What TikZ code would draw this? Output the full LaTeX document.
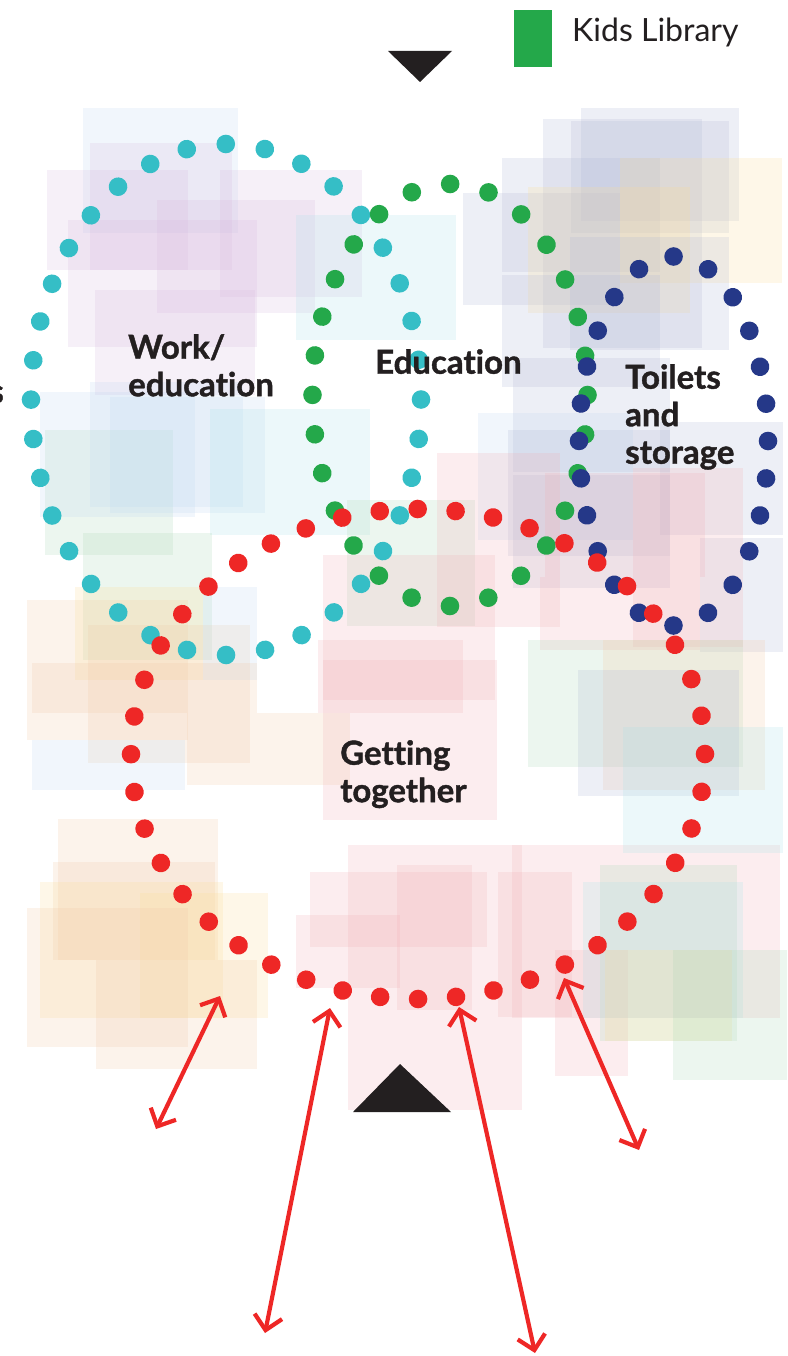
\documentclass[tikz,border=0pt]{standalone}
\usepackage{fontspec}
\setmainfont{Lato}[Ligatures=NoCommon,BoldFeatures={FakeBold=1.2}]
\usetikzlibrary{arrows.meta,decorations.markings}

\definecolor{ink}{RGB}{35,31,32}
\definecolor{workcyan}{RGB}{53,190,198}
\definecolor{edugreen}{RGB}{36,168,74}
\definecolor{storenavy}{RGB}{37,56,136}
\definecolor{meetred}{RGB}{238,39,38}
\definecolor{bglav}{RGB}{215,185,222}
\definecolor{bgblue}{RGB}{190,215,240}
\definecolor{bgslate}{RGB}{175,182,212}
\definecolor{bgcyan}{RGB}{170,225,232}
\definecolor{bggreen}{RGB}{170,215,180}
\definecolor{bgpeach}{RGB}{240,200,165}
\definecolor{bgyellow}{RGB}{250,220,150}
\definecolor{bgpink}{RGB}{240,175,180}

\tikzset{
  dotring/.style 2 args={decorate,decoration={markings,
      mark=between positions 0 and 0.999 step #1 with {\fill[#2] (0,0) circle (9.3);}}},
  zonelabel/.style={anchor=north west,align=left,inner sep=0pt,text=ink,
      font=\bfseries\fontsize{33}{37.5}\selectfont},
  patch/.style={fill=#1,fill opacity=0.22}
}

\begin{document}
\begin{tikzpicture}[x=1pt,y=-1pt]
\useasboundingbox (0,0) rectangle (787,1356);

% pale patches
\foreach \xa/\ya/\xb/\yb/\c in {
  83/108/238/233/bgblue, 90/143/232/270/bglav, 47/170/188/270/bglav,
  220/170/362/297/bglav, 68/220/257/347/bglav, 157/200/315/313/bglav,
  95/290/255/395/bglav, 296/215/456/340/bgcyan,
  463/193/620/305/bgslate, 502/158/660/272/bgslate, 543/119/702/348/bgslate,
  581/108/739/221/bgslate, 571/121/729/233/bgslate, 528/187/690/313/bgyellow,
  620/158/782/283/bgyellow, 502/275/660/387/bgslate, 570/237/729/350/bgslate,
  513/358/670/472/bgslate, 478/413/633/540/bgblue, 508/430/670/556/bgslate,
  513/475/670/588/bgslate, 660/422/783/535/bgslate, 700/538/783/652/bgslate,
  45/430/173/555/bggreen, 40/392/195/517/bgblue, 90/382/243/507/bgblue,
  110/397/265/513/bgblue, 210/409/370/535/bgcyan, 83/533/212/660/bggreen,
  347/500/475/626/bggreen, 323/555/495/700/bgpink, 437/453/560/627/bgpink,
  545/473/705/577/bgpink, 633/468/743/647/bgpink, 540/577/700/650/bgpink,
  27/600/188/740/bgpeach, 75/587/203/680/bgyellow, 88/625/250/763/bgpeach,
  203/587/257/680/bgblue, 32/663/257/713/bgpeach, 32/740/185/790/bgblue,
  187/713/350/785/bgpeach, 58/819/218/960/bgpeach, 53/862/215/960/bgpeach,
  40/882/223/1018/bgyellow, 140/893/268/1018/bgyellow, 27/908/188/1047/bgpeach,
  96/960/257/1069/bgpeach, 318/640/463/713/bgpink, 323/660/497/820/bgpink,
  348/845/522/1110/bgpink, 310/872/487/947/bgpink, 296/915/400/988/bgpink,
  397/865/472/1010/bgpink, 498/872/572/1017/bgpink, 512/845/780/1018/bgpink,
  555/950/628/1076/bgpink, 528/640/743/767/bggreen, 603/640/765/790/bgpeach,
  578/670/739/796/bgslate, 623/727/783/853/bgcyan, 600/865/737/1041/bggreen,
  583/882/743/1018/bgcyan, 605/950/732/1041/bgyellow, 673/950/787/1080/bggreen}
  \fill[patch=\c] (\xa,\ya) rectangle (\xb,\yb);

% dotted rings
\path[dotring={0.027778}{workcyan}] (226,399.5) ellipse [x radius=195,y radius=255.5];
\path[dotring={0.035714}{edugreen}] (450,395) ellipse [x radius=137.5,y radius=211];
\path[dotring={0.041667}{storenavy}] (673.5,441) ellipse [x radius=94.5,y radius=184.5];
\path[dotring={0.022727}{meetred}] (418,754) ellipse [x radius=287,y radius=245];

% entrance marks
\fill[ink] (388,51) -- (452,51) -- (420,82) -- cycle;
\fill[ink] (353,1112) -- (451,1112) -- (400,1064) -- cycle;

% legend
\fill[edugreen] (514,10) rectangle (552,67);
\node[anchor=west,inner sep=0pt,text=ink,font=\fontsize{32}{36}\selectfont]
  (key) at (572,32) {Kids Library};

% labels
\node[zonelabel] (work) at (128,334) {Work/\\education};
\node[zonelabel] (edu) at (375,349) {Education};
\node[zonelabel] (wc) at (625,364) {Toilets\\and\\storage};
\node[zonelabel] (meet) at (340,740) {Getting\\together};
\node[anchor=base east,inner sep=0pt,text=ink,font=\bfseries\fontsize{33}{37}\selectfont]
  (cut) at (4,403) {s};

% flows
\coordinate (A1) at (220,996);  \coordinate (B1) at (156,1129);
\coordinate (A2) at (330,1008); \coordinate (B2) at (265,1333);
\coordinate (A3) at (459,1007); \coordinate (B3) at (535,1353);
\coordinate (A4) at (564,978);  \coordinate (B4) at (639,1150);
\path[<->,color=meetred,line width=4.2pt,>={Straight Barb[length=14pt,width=28pt]}]
(A1) edge (B1)
(A2) edge (B2)
(A3) edge (B3)
(A4) edge (B4);
\end{tikzpicture}
\end{document}
